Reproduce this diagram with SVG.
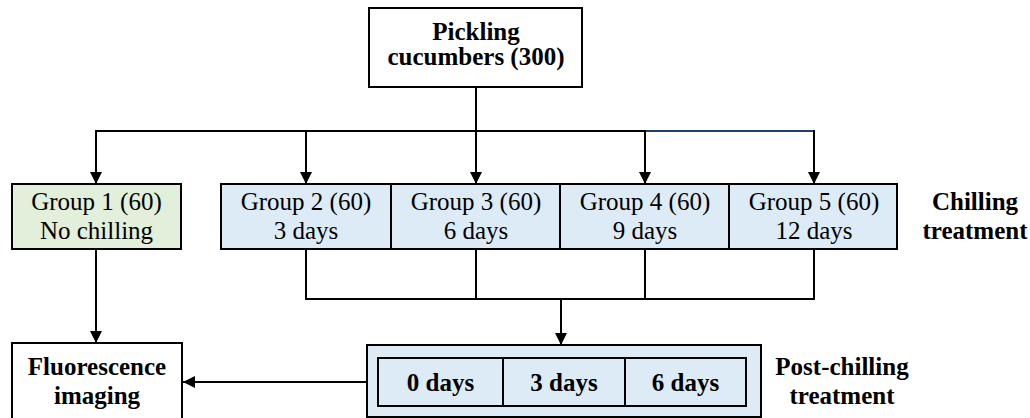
<svg xmlns="http://www.w3.org/2000/svg" width="1030" height="418" viewBox="0 0 1030 418">
<style>
.box{stroke:#000;stroke-width:2;}
.w{fill:#fff}
.g{fill:#e2efda}
.b{fill:#ddebf7}
.t{font-family:'Liberation Serif','Times New Roman',Tinos,'DejaVu Serif',serif;font-size:25px;text-anchor:middle;fill:#000}
.bd{font-weight:bold}
.ln{stroke:#000;stroke-width:2;fill:none}
</style>
<defs>
<marker id="ah" viewBox="0 0 12 12" refX="12" refY="6" markerWidth="12" markerHeight="12" markerUnits="userSpaceOnUse" orient="auto">
<path d="M0,0 L12,6 L0,12 Z" fill="#000"/>
</marker>
</defs>
<rect width="1030" height="418" fill="#fff"/>
<g id="connectors">
<line class="ln" x1="476" y1="87" x2="476" y2="131"/>
<line class="ln" x1="95" y1="131" x2="645" y2="131"/>
<line x1="645" y1="131" x2="815" y2="131" stroke="#1f3f6e" stroke-width="2"/>
<line class="ln" x1="96" y1="130" x2="96" y2="184" marker-end="url(#ah)"/>
<line class="ln" x1="306" y1="130" x2="306" y2="184" marker-end="url(#ah)"/>
<line class="ln" x1="476" y1="130" x2="476" y2="184" marker-end="url(#ah)"/>
<line class="ln" x1="645" y1="130" x2="645" y2="184" marker-end="url(#ah)"/>
<line class="ln" x1="814" y1="130" x2="814" y2="184" marker-end="url(#ah)"/>
<path class="ln" d="M306,249 V299 H814 V249 M476,249 V299 M645,249 V299"/>
<line class="ln" x1="561" y1="299" x2="561" y2="345" marker-end="url(#ah)"/>
<line class="ln" x1="96" y1="249" x2="96" y2="343" marker-end="url(#ah)"/>
<line class="ln" x1="367" y1="382" x2="183" y2="382" marker-end="url(#ah)"/>
</g>
<g id="pickling">
<rect class="box w" x="369" y="8" width="213" height="79"/>
<text class="t bd" font-family="Liberation Serif, serif" x="476" y="40">Pickling</text>
<text class="t bd" font-family="Liberation Serif, serif" x="476" y="65">cucumbers (300)</text>
</g>
<g id="group1">
<rect class="box g" x="12" y="184" width="169" height="65"/>
<text class="t" x="96.5" y="210">Group 1 (60)</text>
<text class="t" x="96.5" y="239">No chilling</text>
</g>
<g id="group2">
<rect class="box b" x="221" y="184" width="170" height="65"/>
<text class="t" x="306" y="210">Group 2 (60)</text>
<text class="t" x="306" y="239">3 days</text>
</g>
<g id="group3">
<rect class="box b" x="391" y="184" width="169" height="65"/>
<text class="t" x="476" y="210">Group 3 (60)</text>
<text class="t" x="476" y="239">6 days</text>
</g>
<g id="group4">
<rect class="box b" x="560" y="184" width="169" height="65"/>
<text class="t" x="645" y="210">Group 4 (60)</text>
<text class="t" x="645" y="239">9 days</text>
</g>
<g id="group5">
<rect class="box b" x="729" y="184" width="168" height="65"/>
<text class="t" x="814" y="210">Group 5 (60)</text>
<text class="t" x="814" y="239">12 days</text>
</g>
<g id="chilling-label">
<text class="t bd" x="975" y="210">Chilling</text>
<text class="t bd" x="975" y="239">treatment</text>
</g>
<g id="fluorescence">
<rect class="box w" x="12" y="343" width="170" height="77"/>
<text class="t bd" x="97" y="375">Fluorescence</text>
<text class="t bd" x="97" y="404">imaging</text>
</g>
<g id="post-chilling">
<rect class="box b" x="367" y="345" width="394" height="72"/>
<rect class="box b" x="378" y="358" width="125" height="48"/>
<rect class="box b" x="503" y="358" width="122" height="48"/>
<rect class="box b" x="625" y="358" width="121" height="48"/>
<text class="t bd" x="440.5" y="391">0 days</text>
<text class="t bd" x="564" y="391">3 days</text>
<text class="t bd" x="685.5" y="391">6 days</text>
</g>
<g id="post-chilling-label">
<text class="t bd" x="842" y="375">Post-chilling</text>
<text class="t bd" x="842" y="404">treatment</text>
</g>
</svg>
